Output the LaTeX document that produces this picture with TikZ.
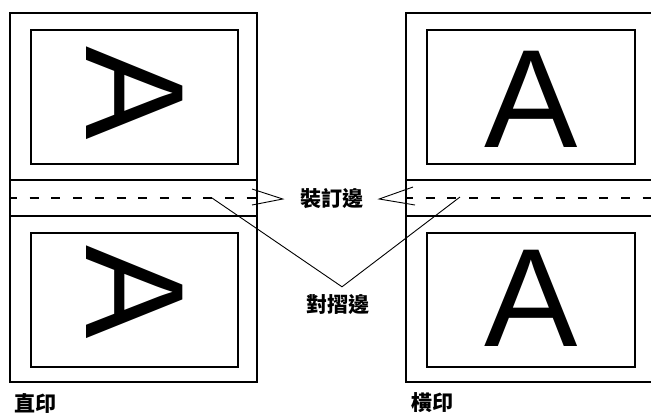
\documentclass[tikz,border=0pt]{standalone}
\usepackage{fontspec}
\setmainfont{Liberation Sans}
\newfontfamily\cjk{Noto Sans CJK TC}
\usetikzlibrary{positioning}
\tikzset{
  sheet/.style={draw,line width=2.3pt,minimum width=#1,minimum height=134pt,inner sep=0pt},
  sheet/.default={207pt},
  glyph/.style={inner sep=0pt,font=\fontsize{140}{140}\selectfont},
  lbl/.style={inner sep=0pt,font=\cjk\bfseries\fontsize{21}{22}\selectfont},
  fold/.style={line width=2.6pt,dash pattern=on 9pt off 12.7pt,dash phase=2pt},
  lead/.style={line width=0.9pt},
}
\begin{document}
\begin{tikzpicture}[x=1pt,y=-1pt,line join=miter]
 \useasboundingbox (0,0) rectangle (651,416);
 \clip (0,0) rectangle (651,416);
 % portrait binding
 \draw[line width=2.3pt] (10,13) rectangle (257,382) (10,180) -- (257,180) (10,216) -- (257,216);
 \node[sheet] (pt) at (134.5,97) {};
 \node[sheet] (pb) at (134.5,300) {};
 \node[glyph,rotate=-90] (apt) at (135,93) {A};
 \node[glyph,rotate=-90] (apb) at (135,292.5) {A};
 \draw[fold] (10,198) -- (257,198);
 % landscape binding
 \draw[line width=2.3pt] (660,13) -- (406,13) -- (406,382) -- (660,382) (406,180) -- (660,180) (406,216) -- (660,216);
 \node[sheet=208pt] (lt) at (531,97) {};
 \node[sheet=208pt] (lb) at (531,300) {};
 \node[glyph] (alt) at (531,99) {A};
 \node[glyph] (alb) at (531,298.5) {A};
 \draw[fold] (406,198) -- (660,198);
 % labels
 \node[lbl] (bind) at (332,199) {裝訂邊};
 \node[lbl] (crease) at (338,305) {對摺邊};
 \node[lbl] (port) at (35,403) {直印};
 \node[lbl] (land) at (432,403) {橫印};
 % leaders
 \coordinate (la) at (252,189);
 \coordinate (lb) at (252,205);
 \coordinate (ra) at (413,187);
 \coordinate (rb) at (415,205);
 \coordinate (fl) at (212,198);
 \coordinate (fr) at (460,197);
 \draw[lead] (la) -- ([xshift=-17.5pt]bind.west) -- (lb);
 \draw[lead] (ra) -- ([xshift=15.5pt]bind.east) -- (rb);
 \draw[lead] (fl) -- ([xshift=4pt,yshift=8pt]crease.north) -- (fr);
\end{tikzpicture}
\end{document}
